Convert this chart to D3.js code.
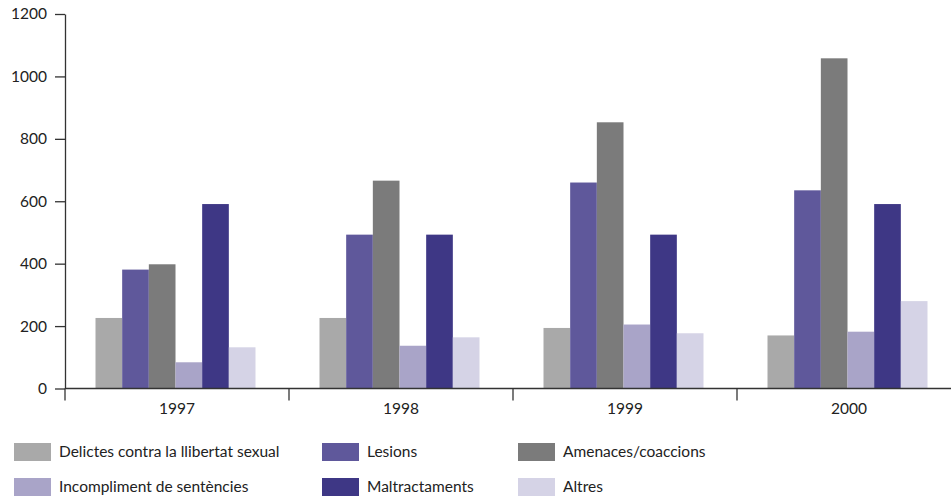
<!DOCTYPE html>
<html>
<head>
<meta charset="utf-8">
<script src="https://cdn.jsdelivr.net/npm/d3@7"></script>
<style>
  body { margin: 0; background: #fff; }
  svg { display: block; font-family: "Lato", "Open Sans", sans-serif; }
</style>
</head>
<body>
<div id="chart"></div>
<script>
// ------- Data -------
const years = ["1997", "1998", "1999", "2000"];
const seriesNames = [
  "Delictes contra la llibertat sexual",
  "Lesions",
  "Amenaces/coaccions",
  "Incompliment de sentències",
  "Maltractaments",
  "Altres"
];
const delictes = [226, 226, 194, 170];
const lesions = [381, 493, 660, 635];
const amenaces = [398, 666, 853, 1058];
const incompliment = [84, 137, 205, 182];
const maltractaments = [591, 493, 493, 591];
const altres = [132, 164, 177, 280];
const yTicks = [0, 200, 400, 600, 800, 1000, 1200];
const colors = ["#a9a9a9", "#5f589b", "#7b7b7b", "#a9a4c8", "#3e3785", "#d5d3e6"];

const values = [delictes, lesions, amenaces, incompliment, maltractaments, altres];

// ------- Chart Setup -------
const W = 951, H = 497;
const svg = d3.select("#chart").append("svg")
  .attr("width", W).attr("height", H);

const x0 = d3.scaleBand().domain(years).range([65, 961]).padding(0);
const x1 = d3.scaleBand().domain(seriesNames).range([30.5, 190.5]).padding(0);
const y = d3.scaleLinear().domain([0, 1200]).range([388.5, 14]);
const color = d3.scaleOrdinal().domain(seriesNames).range(colors);

// ------- Bars -------
const groups = svg.append("g")
  .selectAll("g")
  .data(years)
  .enter().append("g")
  .attr("transform", d => `translate(${x0(d)},0)`);

groups.selectAll("rect")
  .data((yr, i) => seriesNames.map((s, j) => ({ key: s, value: values[j][i] })))
  .enter().append("rect")
  .attr("x", d => x1(d.key))
  .attr("width", x1.bandwidth())
  .attr("y", d => y(d.value))
  .attr("height", d => y(0) - y(d.value))
  .attr("fill", d => color(d.key));

// ------- Y axis -------
const yAxis = svg.append("g")
  .attr("transform", "translate(65,0)")
  .call(d3.axisLeft(y).tickValues(yTicks).tickFormat(d3.format("d"))
    .tickSize(10).tickSizeOuter(0).tickPadding(8));
yAxis.select(".domain").attr("stroke", "#333").attr("stroke-width", 1.3);
yAxis.selectAll(".tick line").attr("stroke", "#333").attr("stroke-width", 1.3);
yAxis.selectAll("text").attr("font-size", 15.5).attr("fill", "#222")
  .attr("font-family", "Lato, sans-serif");

// ------- X axis -------
const xAxis = svg.append("g").attr("transform", `translate(0,${y(0)})`);
xAxis.append("line")
  .attr("x1", 65).attr("x2", W)
  .attr("stroke", "#333").attr("stroke-width", 1.3);
xAxis.selectAll("line.bound")
  .data(years)
  .enter().append("line")
  .attr("class", "bound")
  .attr("x1", d => x0(d)).attr("x2", d => x0(d))
  .attr("y1", 0).attr("y2", 12)
  .attr("stroke", "#333").attr("stroke-width", 1.3);
xAxis.selectAll("text")
  .data(years)
  .enter().append("text")
  .attr("x", d => x0(d) + x0.bandwidth() / 2)
  .attr("y", 25)
  .attr("text-anchor", "middle")
  .attr("font-size", 15.5)
  .attr("fill", "#222")
  .text(d => d);

// ------- Legend -------
const legendX = [14, 322, 518];
const legendY = [443, 478];
const legend = svg.append("g");
seriesNames.forEach((s, i) => {
  const g = legend.append("g")
    .attr("transform", `translate(${legendX[i % 3]},${legendY[Math.floor(i / 3)]})`);
  g.append("rect")
    .attr("width", 37).attr("height", 18)
    .attr("fill", color(s));
  g.append("text")
    .attr("x", 45).attr("y", 14)
    .attr("font-size", 15.5)
    .attr("fill", "#222")
    .text(s);
});
</script>
</body>
</html>
